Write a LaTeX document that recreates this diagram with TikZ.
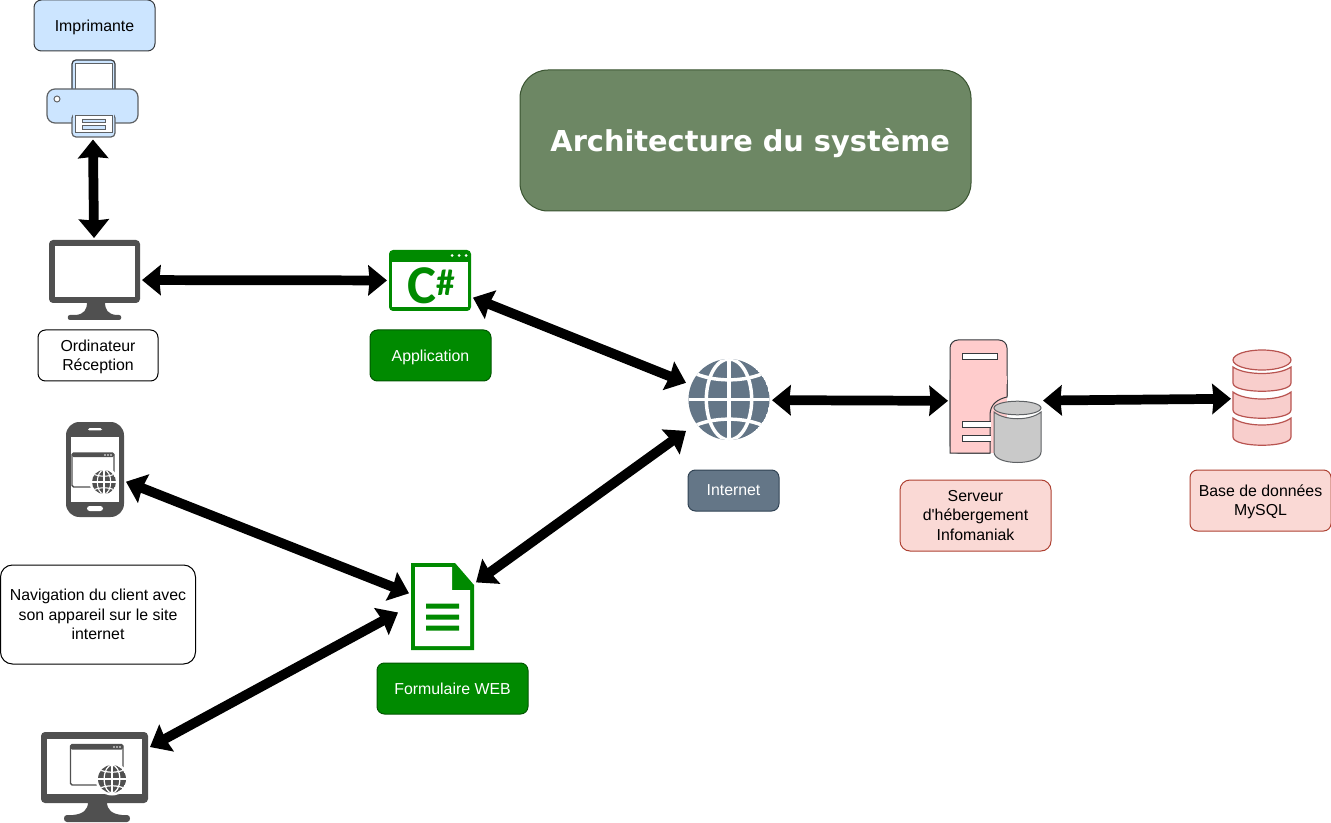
\documentclass[tikz,border=0pt]{standalone}
\usepackage{fontspec}
\setmainfont{Liberation Sans}
\newfontfamily\titlefont{DejaVu Sans}
\newfontfamily\csfont{Carlito}
\newfontfamily\plainfont{Liberation Sans}
\usetikzlibrary{arrows.meta}
\definecolor{gfill}{HTML}{008A00}
\definecolor{gline}{HTML}{005700}
\definecolor{bfill}{HTML}{CCE5FF}
\definecolor{bline}{HTML}{36393D}
\definecolor{sfill}{HTML}{647687}
\definecolor{sline}{HTML}{314354}
\definecolor{rfill}{HTML}{FAD9D5}
\definecolor{rline}{HTML}{AE4132}
\definecolor{dfill}{HTML}{F8CECC}
\definecolor{dline}{HTML}{B85450}
\definecolor{tfill}{HTML}{6D8764}
\definecolor{tline}{HTML}{3A5431}
\definecolor{icon}{HTML}{505050}
\definecolor{pfill}{HTML}{FFCCCC}
\newcommand{\toppad}{\rule{0pt}{11pt}}
\tikzset{
  textbox/.style={draw,line width=.75pt,rounded corners=5.6pt,align=center,inner sep=0pt,
    font=\fontsize{11.9pt}{14.7pt}\selectfont},
  whitebox/.style={textbox,fill=white,draw=black},
  greenbox/.style={textbox,fill=gfill,draw=gline,text=white},
  bluebox/.style={textbox,fill=bfill,draw=bline},
  slatebox/.style={textbox,fill=sfill,draw=sline,text=white},
  redbox/.style={textbox,fill=rfill,draw=rline},
  iconbox/.style={inner sep=0pt,outer sep=1.5pt},
  link/.style={line width=7.3pt,{Stealth[length=14pt,width=22.5pt,inset=1pt]}-{Stealth[length=14pt,width=22.5pt,inset=1pt]}},
}
\newcommand{\globelines}[1]{%
    \begin{scope}[draw=white,line width=#1]
      \draw (0,-1) -- (0,1);
      \draw (-1,0) -- (1,0);
      \draw (0,0) ellipse (.56 and 1);
      \draw (-.92,-.68) .. controls (-.4,-.42) and (.4,-.42) .. (.92,-.68);
      \draw (-.92,.68) .. controls (-.4,.42) and (.4,.42) .. (.92,.68);
    \end{scope}}
\newcommand{\globeicon}[4]{% x y r linewidth
  \begin{scope}[shift={(#1,#2)},scale=#3]
    \clip (0,0) circle (1);
    \fill[sfill] (0,0) circle (1);
    \globelines{#4}
  \end{scope}}
\newcommand{\smallglobe}[4]{% x y r linewidth, grey with white ring
  \fill[white] (#1,#2) circle ({#3+2.5});
  \begin{scope}[shift={(#1,#2)},scale=#3]
    \clip (0,0) circle (1);
    \fill[icon] (0,0) circle (1);
    \globelines{#4}
  \end{scope}}
\newcommand{\windowicon}[5]{% x1 y1 x2 y2 bar
  \draw[icon,line width=1.1pt,rounded corners=1.2pt,fill=white] (#1,#2) rectangle (#3,#4);
  \fill[icon,rounded corners=1pt] (#1,#2) rectangle (#3,{#2+#5});
  \fill[white] ({#3-9},{#2+#5/2}) circle (.9) ({#3-6},{#2+#5/2}) circle (.9) ({#3-3},{#2+#5/2}) circle (.9);}
\newcommand{\dbseg}[4]{% top side, top centre, bottom side, bottom centre
  \draw[fill=dfill,draw=dline,line width=.9pt]
    (1233,#1) .. controls (1245,{#1+(#2-#1)*4/3}) and (1279,{#1+(#2-#1)*4/3}) .. (1291,#1)
    -- (1291,#3) .. controls (1291,{#3+(#4-#3)*1.1}) and (1233,{#3+(#4-#3)*1.1}) .. (1233,#3) -- cycle;}
\begin{document}
\begin{tikzpicture}[x=.75pt,y=-.75pt]
\useasboundingbox (0,0) rectangle (1331,823);
\fill[white] (0,0) rectangle (1331,823);

% title
\node[draw=tline,fill=tfill,line width=.75pt,rounded corners=21pt,minimum width=451*.75pt,minimum height=141*.75pt,inner sep=0pt,text=white] (title) at (745.5,140.5) {\raisebox{-8pt}[0pt][0pt]{\hspace*{7pt}\titlefont\bfseries\fontsize{21.6pt}{26pt}\selectfont Architecture du système}};

% text boxes
\node[bluebox,minimum width=121*.75pt,minimum height=51*.75pt] (lblprinter) at (94.5,25.5) {\toppad Imprimante};
\node[whitebox,minimum width=120*.75pt,minimum height=51*.75pt] (lblpc) at (98,355.5) {\toppad Ordinateur\\Réception};
\node[greenbox,minimum width=121*.75pt,minimum height=51*.75pt] (lblapp) at (430.5,355.5) {\toppad Application};
\node[slatebox,minimum width=91*.75pt,minimum height=41*.75pt] (lblnet) at (733.5,490.5) {Internet};
\node[redbox,minimum width=151*.75pt,minimum height=71*.75pt,rounded corners=7.5pt] (lblserver) at (975.5,515.5) {Serveur\\d{\plainfont '}hébergement\\Infomaniak};
\node[redbox,minimum width=141*.75pt,minimum height=61*.75pt] (lbldb) at (1260.5,500.5) {\toppad Base de données\\MySQL};
\node[whitebox,minimum width=195*.75pt,minimum height=99*.75pt,rounded corners=9pt] (lblnav) at (98,614.5) {Navigation du client avec\\son appareil sur le site\\internet};
\node[greenbox,minimum width=151*.75pt,minimum height=51*.75pt] (lblform) at (452.5,688.5) {Formulaire WEB};

% printer
\draw[bline,line width=.9pt,fill=bfill,rounded corners=3pt] (72,92) -- (72,60) -- (115,60) -- (115,92);
\fill[white] (75,64) rectangle (112,90);
\draw[bline!80,line width=.75pt] (75,64) rectangle (112,89.5);
\draw[bline!80,line width=.9pt,fill=bfill,rounded corners=6pt] (72,123) -- (47,123) -- (47,89) -- (138,89) -- (138,123) -- (115,123);
\draw[bline!80,line width=.9pt,fill=bfill,rounded corners=3pt] (72,114) -- (72,137) -- (115,137) -- (115,114) -- cycle;
\fill[bfill] (73,110) rectangle (114,122);
\draw[bline!80,line width=.75pt,fill=white] (75,116) rectangle (112,133);
\draw[bline!80,line width=.6pt,fill=bfill] (82,119) rectangle (105,122.5) (82,125.5) rectangle (105,129);
\draw[bline!80,line width=.7pt,fill=white] (57,99) circle (3);

% reception monitor
\fill[icon,rounded corners=3pt] (49,240) rectangle (140,303);
\fill[white] (55,246) rectangle (135,297);
\fill[icon] (87,302) -- (105,302) .. controls (105,310) and (108,314) .. (116,315) -- (119,315) .. controls (122,315) and (122,320) .. (119,320) -- (70,320) .. controls (67,320) and (67,315) .. (70,315) -- (76,315) .. controls (84,314) and (87,310) .. (87,302) -- cycle;

% C# window
\fill[gfill,rounded corners=3pt] (389,250) rectangle (471,311);
\fill[white] (392,262) rectangle (468,307);
\fill[white] (452,255.5) circle (1.5) (459,255.5) circle (1.5) (466,255.5) circle (1.5);
\node[text=gfill,inner sep=0pt,font=\csfont\bfseries\fontsize{41pt}{41pt}\selectfont] (csharpc) at (421.5,285.5) {C};
\node[text=gfill,inner sep=0pt,font=\csfont\bfseries\fontsize{28pt}{28pt}\selectfont] (csharph) at (446,283) {\#};

% globe
\globeicon{729}{399.5}{40.5}{2.6pt}

% server
\draw[bline,line width=.75pt,fill=pfill,rounded corners=6pt]
  (990,453) -- (950,453) -- (950,340) -- (1007,340) -- (1007,396);
\fill[pfill] (951,380) rectangle (1006.5,452.5);
\draw[bline,line width=.75pt,fill=pfill] (950,380) -- (950,453) -- (990,453) -- (990,415) .. controls (990,404) and (998,399) .. (1007,397) -- (1007,380);
\fill[pfill] (951,376) rectangle (1006.6,384);
\draw[bline,line width=.75pt,fill=white] (962,354) rectangle (997,360);
\draw[bline,line width=.75pt,fill=white] (990.5,421) -- (962,421) -- (962,427) -- (990.5,427);
\fill[white] (963,421.5) rectangle (991,426.5);
\draw[bline,line width=.75pt,fill=white] (990.5,435) -- (962,435) -- (962,441) -- (990.5,441);
\fill[white] (963,435.5) rectangle (991,440.5);
\draw[bline!80,line width=.75pt,fill=black!21] (994,412) .. controls (1005,421) and (1030,421) .. (1041,412) -- (1041,452) .. controls (1041,466) and (994,466) .. (994,452) -- cycle;
\draw[bline!80,line width=.75pt,fill=black!21] (1017.5,408) ellipse (23.5 and 6.8);

% database
\dbseg{367}{373.5}{383}{393}
\dbseg{392}{399}{410}{420}
\dbseg{418}{425}{437}{447}
\draw[fill=dfill,draw=dline,line width=.9pt] (1262,360) ellipse (29 and 10);

% phone
\fill[icon,rounded corners=10pt] (66,422) rectangle (124,517);
\fill[white] (71,437) rectangle (119,502);
\fill[white,rounded corners=1pt] (88,428.2) rectangle (102,430.4);
\fill[white,rounded corners=2pt] (87,506) rectangle (103,511);
\windowicon{72}{453}{114}{487}{4}
\smallglobe{104}{482}{12}{.8pt}

% web monitor
\fill[icon,rounded corners=3pt] (41,732) rectangle (148,803);
\fill[white] (47,739) rectangle (142,794);
\fill[icon] (88,802) -- (107,802) .. controls (107,810) and (112,814) .. (122,815) -- (127,815) .. controls (131,815) and (131,822) .. (127,822) -- (67,822) .. controls (63,822) and (63,815) .. (67,815) -- (73,815) .. controls (83,814) and (88,810) .. (88,802) -- cycle;
\windowicon{70.5}{744.5}{123}{785}{5}
\smallglobe{112}{779}{14}{.9pt}

% document
\fill[gfill] (411,563) -- (455,563) -- (474,585) -- (474,650) -- (411,650) -- cycle;
\fill[white] (415,567) -- (452,567) -- (452,590) -- (470,590) -- (470,646) -- (415,646) -- cycle;
\fill[gfill] (426,603.5) rectangle (459,608.5) (426,614.5) rectangle (459,619.5) (426,625.5) rectangle (459,630.5);

% anchors for connectors
\node[iconbox,minimum width=91*.75pt,minimum height=78*.75pt] (printer) at (92.5,98.5) {};
\node[iconbox,minimum width=91*.75pt,minimum height=80*.75pt] (pc) at (94.5,280) {};
\node[iconbox,minimum width=82*.75pt,minimum height=61*.75pt] (app) at (430,280.5) {};
\node[iconbox,minimum width=82*.75pt,minimum height=82*.75pt] (net) at (729,400) {};
\node[iconbox,minimum width=91*.75pt,minimum height=122*.75pt] (server) at (995.5,401) {};
\node[iconbox,minimum width=58*.75pt,minimum height=97*.75pt] (db) at (1262,398.5) {};
\node[iconbox,minimum width=58*.75pt,minimum height=95*.75pt] (phone) at (95,469.5) {};
\node[iconbox,minimum width=107*.75pt,minimum height=90*.75pt] (webpc) at (94.5,777) {};
\node[iconbox,minimum width=63*.75pt,minimum height=87*.75pt] (form) at (442.5,606.5) {};
\coordinate (formleft) at (398,612.5);

% connectors
\draw[link] (printer) -- (pc);
\draw[link] (pc) -- (app);
\draw[link] (app) -- (net);
\draw[link] (net) -- (server);
\draw[link] (server) -- (db);
\draw[link] (phone) -- (form);
\draw[link] (form) -- (net);
\draw[link] (webpc) -- (formleft);
\end{tikzpicture}
\end{document}
